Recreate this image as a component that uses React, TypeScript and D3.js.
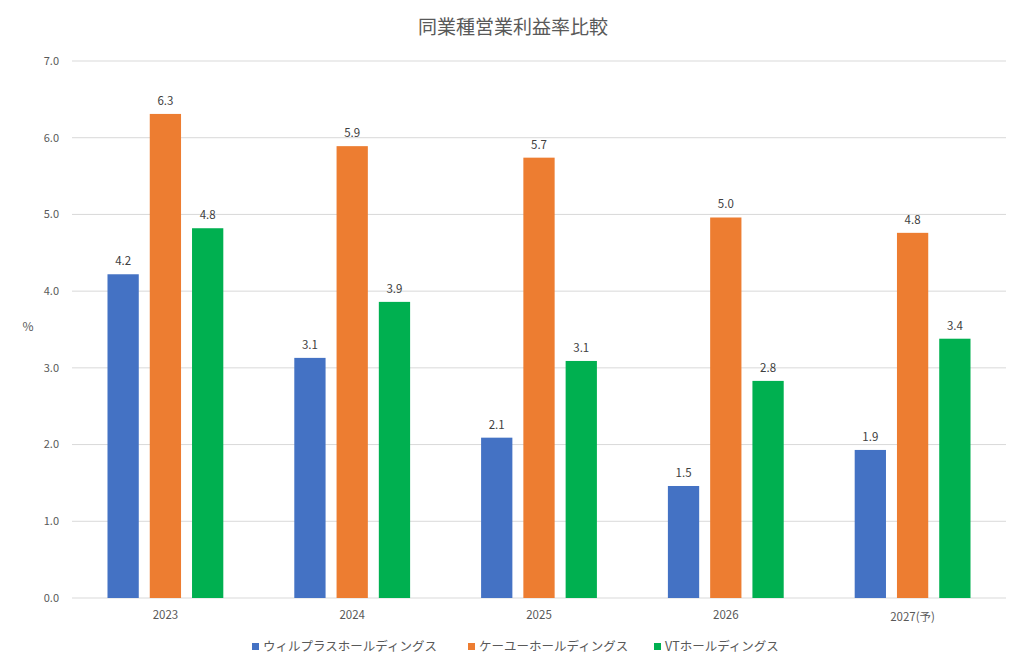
import * as d3 from "d3";
import { useEffect, useRef } from "react";

const years = ["2023", "2024", "2025", "2026", "2027(予)"];
const seriesNames = ["ウィルプラスホールディングス", "ケーユーホールディングス", "VTホールディングス"];
const willplus = [4.22, 3.13, 2.09, 1.46, 1.93];
const keiyu = [6.31, 5.89, 5.74, 4.96, 4.76];
const vt = [4.82, 3.86, 3.09, 2.83, 3.38];
const colors = ["#4472C4", "#ED7D31", "#00B050"];
const yTicks = [0, 1, 2, 3, 4, 5, 6, 7];

const W = 1024;
const H = 669;
const font = "'Noto Sans CJK JP', 'Noto Sans', sans-serif";

const App = () => {
  const ref = useRef<SVGSVGElement>(null);

  useEffect(() => {
    const svg = d3.select(ref.current);
    svg.selectAll("*").remove();

    const margin = { top: 61, right: 18, bottom: 71, left: 72 };
    const width = W - margin.left - margin.right;
    const height = H - margin.top - margin.bottom;

    svg
      .append("rect")
      .attr("x", 1)
      .attr("y", 1)
      .attr("width", W - 2)
      .attr("height", H - 2)
      .attr("fill", "#fff")
      .attr("stroke", "#d0d0d0")
      .attr("stroke-width", 1.5);

    svg
      .append("text")
      .attr("x", W / 2 + 1)
      .attr("y", 34)
      .attr("text-anchor", "middle")
      .attr("font-family", font)
      .attr("font-size", 19)
      .attr("fill", "#595959")
      .text("同業種営業利益率比較");

    const g = svg.append("g").attr("transform", `translate(${margin.left},${margin.top})`);

    const x = d3.scaleBand().domain(years).range([0, width]).paddingInner(0.38).paddingOuter(0.19);
    const y = d3.scaleLinear().domain([0, 7]).range([height, 0]);
    const xs = d3.scaleBand().domain(seriesNames).range([0, x.bandwidth()]).paddingInner(0.26);

    g.append("g")
      .selectAll("line")
      .data(yTicks)
      .join("line")
      .attr("x1", 0)
      .attr("x2", width)
      .attr("y1", (d) => y(d))
      .attr("y2", (d) => y(d))
      .attr("stroke", "#d9d9d9")
      .attr("stroke-width", 1);

    g.append("g")
      .selectAll("text")
      .data(yTicks)
      .join("text")
      .attr("x", -13)
      .attr("y", (d) => y(d))
      .attr("dy", "0.35em")
      .attr("text-anchor", "end")
      .attr("font-family", font)
      .attr("font-size", 11)
      .attr("fill", "#595959")
      .text((d) => d.toFixed(1));

    svg
      .append("text")
      .attr("x", 28)
      .attr("y", margin.top + height / 2 + 4 - 3)
      .attr("text-anchor", "middle")
      .attr("font-family", font)
      .attr("font-size", 12)
      .attr("fill", "#595959")
      .text("%");

    const series = [willplus, keiyu, vt];
    series.forEach((vals, si) => {
      const sg = g.append("g");
      sg.selectAll("rect")
        .data(vals)
        .join("rect")
        .attr("x", (_, i) => (x(years[i]) ?? 0) + (xs(seriesNames[si]) ?? 0))
        .attr("y", (d) => y(d))
        .attr("width", xs.bandwidth())
        .attr("height", (d) => height - y(d))
        .attr("fill", colors[si]);
      sg.selectAll("text")
        .data(vals)
        .join("text")
        .attr("x", (_, i) => (x(years[i]) ?? 0) + (xs(seriesNames[si]) ?? 0) + xs.bandwidth() / 2)
        .attr("y", (d) => y(d) - 9)
        .attr("text-anchor", "middle")
        .attr("font-family", font)
        .attr("font-size", 11.5)
        .attr("fill", "#404040")
        .text((d) => d.toFixed(1));
    });

    g.append("g")
      .selectAll("text")
      .data(years)
      .join("text")
      .attr("x", (d) => (x(d) ?? 0) + x.bandwidth() / 2)
      .attr("y", (d) => height + (d.includes("予") ? 23 : 21))
      .attr("text-anchor", "middle")
      .attr("font-family", font)
      .attr("font-size", 11.5)
      .attr("fill", "#595959")
      .text((d) => d);

    const legendX = [252, 468, 654];
    const lg = svg.append("g");
    seriesNames.forEach((name, i) => {
      lg.append("rect")
        .attr("x", legendX[i])
        .attr("y", 643)
        .attr("width", 7)
        .attr("height", 7)
        .attr("fill", colors[i]);
      lg.append("text")
        .attr("x", legendX[i] + 11)
        .attr("y", 647)
        .attr("dy", "0.35em")
        .attr("font-family", font)
        .attr("font-size", 12.5)
        .attr("fill", "#595959")
        .text(name);
    });
  }, []);

  return <svg ref={ref} width={W} height={H} style={{ display: "block", margin: -8 }} />;
};

export default App;
